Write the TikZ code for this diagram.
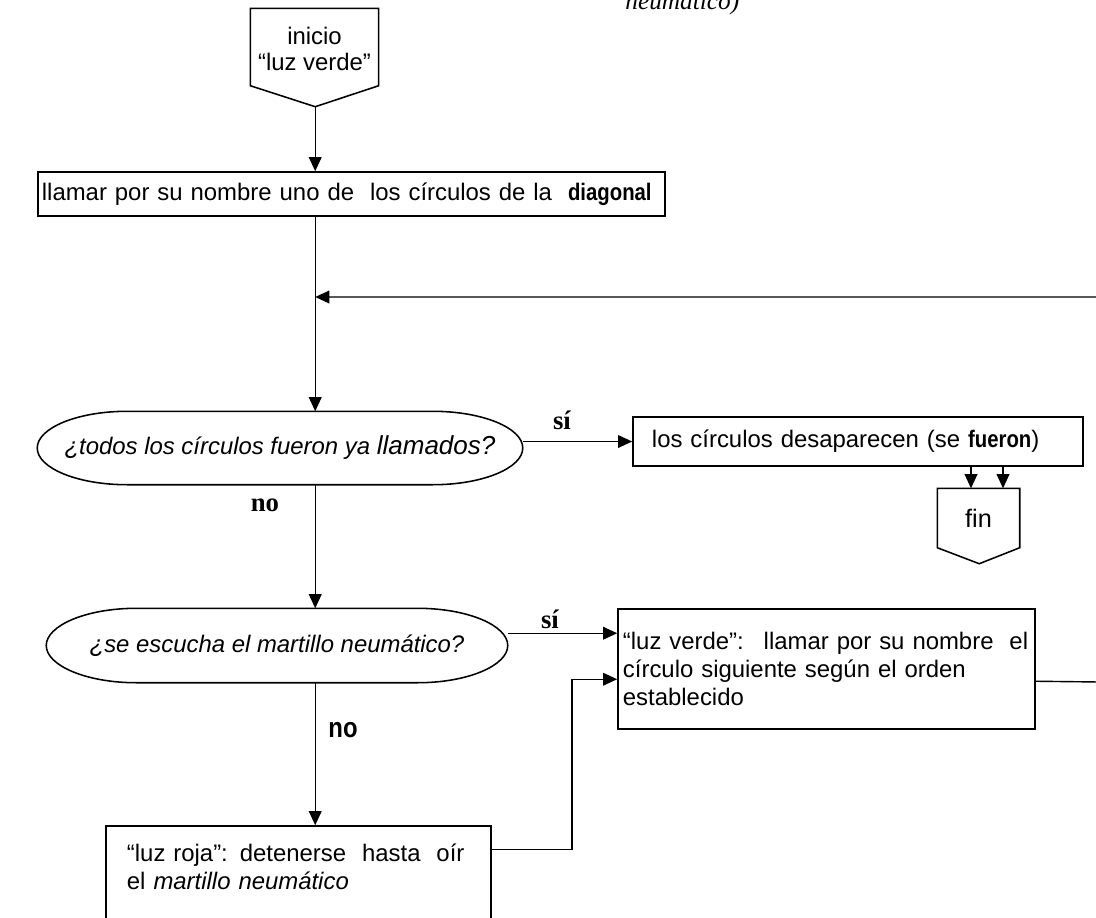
\documentclass[tikz,border=0pt]{standalone}
\usepackage{fontspec}
\setmainfont{Liberation Sans}
\newfontfamily\timesf{Liberation Serif}
\newfontfamily\condf{Liberation Sans}[FakeStretch=0.85]
\usepackage{tikz}
\usetikzlibrary{arrows.meta,calc}

\newcommand{\cond}[1]{{\condf\bfseries #1}}
\newcommand{\pill}[1]{%
  \draw[line width=1.1pt] ($(#1.north west)+(90,0)$) -- ($(#1.north east)+(-90,0)$)
    .. controls ($(#1.north east)+(-40,0)$) and ($(#1.east)+(0,-20)$) .. (#1.east)
    .. controls ($(#1.east)+(0,20)$) and ($(#1.south east)+(-40,0)$) .. ($(#1.south east)+(-90,0)$)
    -- ($(#1.south west)+(90,0)$)
    .. controls ($(#1.south west)+(40,0)$) and ($(#1.west)+(0,20)$) .. (#1.west)
    .. controls ($(#1.west)+(0,-20)$) and ($(#1.north west)+(40,0)$) .. ($(#1.north west)+(90,0)$) -- cycle;}

\begin{document}
\begin{tikzpicture}[x=0.025cm,y=-0.025cm,font=\fontsize{17}{19.7}\selectfont,
    line width=1pt,>={Triangle[length=10pt,width=9pt]},
    box/.style={draw=black,line width=1.1pt,rectangle,inner sep=0pt,align=left},
    ask/.style={rectangle,inner sep=0pt,font=\fontsize{17}{19.7}\selectfont\itshape},
    lbl/.style={font=\fontsize{19}{21}\selectfont\timesf\bfseries}]
    \useasboundingbox (0,0) rectangle (1096,917);

    \node[name=note,anchor=base west,font=\fontsize{18}{20}\selectfont\timesf\itshape] at (620,9) {neumático)};

    \node[name=start,rectangle,inner sep=0pt,align=center,minimum width=3.175cm,minimum height=1.9cm,text depth=0pt] at (314.5,47) {\raisebox{-4pt}{inicio}\\\raisebox{-3pt}{“luz verde”}};
    \draw[line width=1.1pt] (start.north west) -- (start.north east) -- (start.south east) -- ++(-63.5,21) coordinate (starttip) -- (start.south west) -- cycle;

    \node[box,name=diag,minimum width=15.675cm,minimum height=1.1cm,text width=15.475cm] at (351.5,194) {llamar por su nombre uno de~ los círculos de la~ \cond{diagonal}};

    \node[ask,name=ask1,minimum width=12.1cm,minimum height=1.8cm] at (280,448) {¿todos los círculos fueron ya {\fontsize{18.5}{20}\selectfont llamados?}};
    \pill{ask1}

    \node[box,name=gone,minimum width=11.25cm,minimum height=1.225cm,text width=10.3cm] at (858,441.5) {los círculos desaparecen (se \cond{fueron})};

    \node[name=fin,rectangle,inner sep=0pt,minimum width=2.025cm,minimum height=1.45cm] at (978.5,518) {\fontsize{18}{20}\selectfont fin};
    \draw[line width=1.1pt] (fin.north west) -- (fin.north east) -- (fin.south east) -- ++(-40.5,16) coordinate (fintip) -- (fin.south west) -- cycle;

    \node[ask,name=ask2,minimum width=11.5cm,minimum height=1.825cm] at (277,645.5) {¿se escucha el martillo neumático?};
    \pill{ask2}

    \node[box,name=green,minimum width=10.425cm,minimum height=3cm,text width=10.175cm] at (826.5,669) {“luz verde”:~ llamar por su nombre~ el\\círculo siguiente según el orden\\establecido};

    \node[box,name=red,minimum width=9.625cm,minimum height=2.725cm,text width=8.575cm] at (298.5,880.5) {“luz roja”: detenerse~ hasta~ oír\\el \textit{martillo neumático}\\\mbox{}};

    \node[lbl,name=yes1] at (562,420) {sí};
    \node[lbl,name=no1] at (265,505) {no};
    \node[lbl,name=yes2] at (550,619) {sí};
    \node[name=no2,font=\fontsize{20}{22}\selectfont\condf\bfseries] at (343,730) {no};

    \coordinate (loopR) at (1100,682);
    \coordinate (loopT) at (1100,297);

    \draw[->] (starttip) -- (diag.north -| starttip);
    \draw[->] (diag.south -| starttip) -- (ask1.north -| starttip);
    \draw[->] (ask1.east |- gone.west) -- (gone.west);
    \draw[->] ([xshift=-0.1875cm]fin.north |- gone.south) -- ([xshift=-0.1875cm]fin.north);
    \draw[->] ([xshift=0.6125cm]fin.north |- gone.south) -- ([xshift=0.6125cm]fin.north);
    \draw[->] (ask1.south -| starttip) -- (ask2.north -| starttip);
    \draw[->] ([yshift=-0.625cm]green.north west -| ask2.east) -- ([yshift=-0.625cm]green.north west);
    \draw[->] (ask2.south -| starttip) -- (red.north -| starttip);
    \draw[->] ([yshift=-0.6cm]red.north east) -- ++(80,0) |- ([yshift=-1.775cm]green.north west);
    \draw[->] ([yshift=-1.825cm]green.north east) -- (loopR) -- (loopT) -- (loopT -| starttip);
\end{tikzpicture}
\end{document}
